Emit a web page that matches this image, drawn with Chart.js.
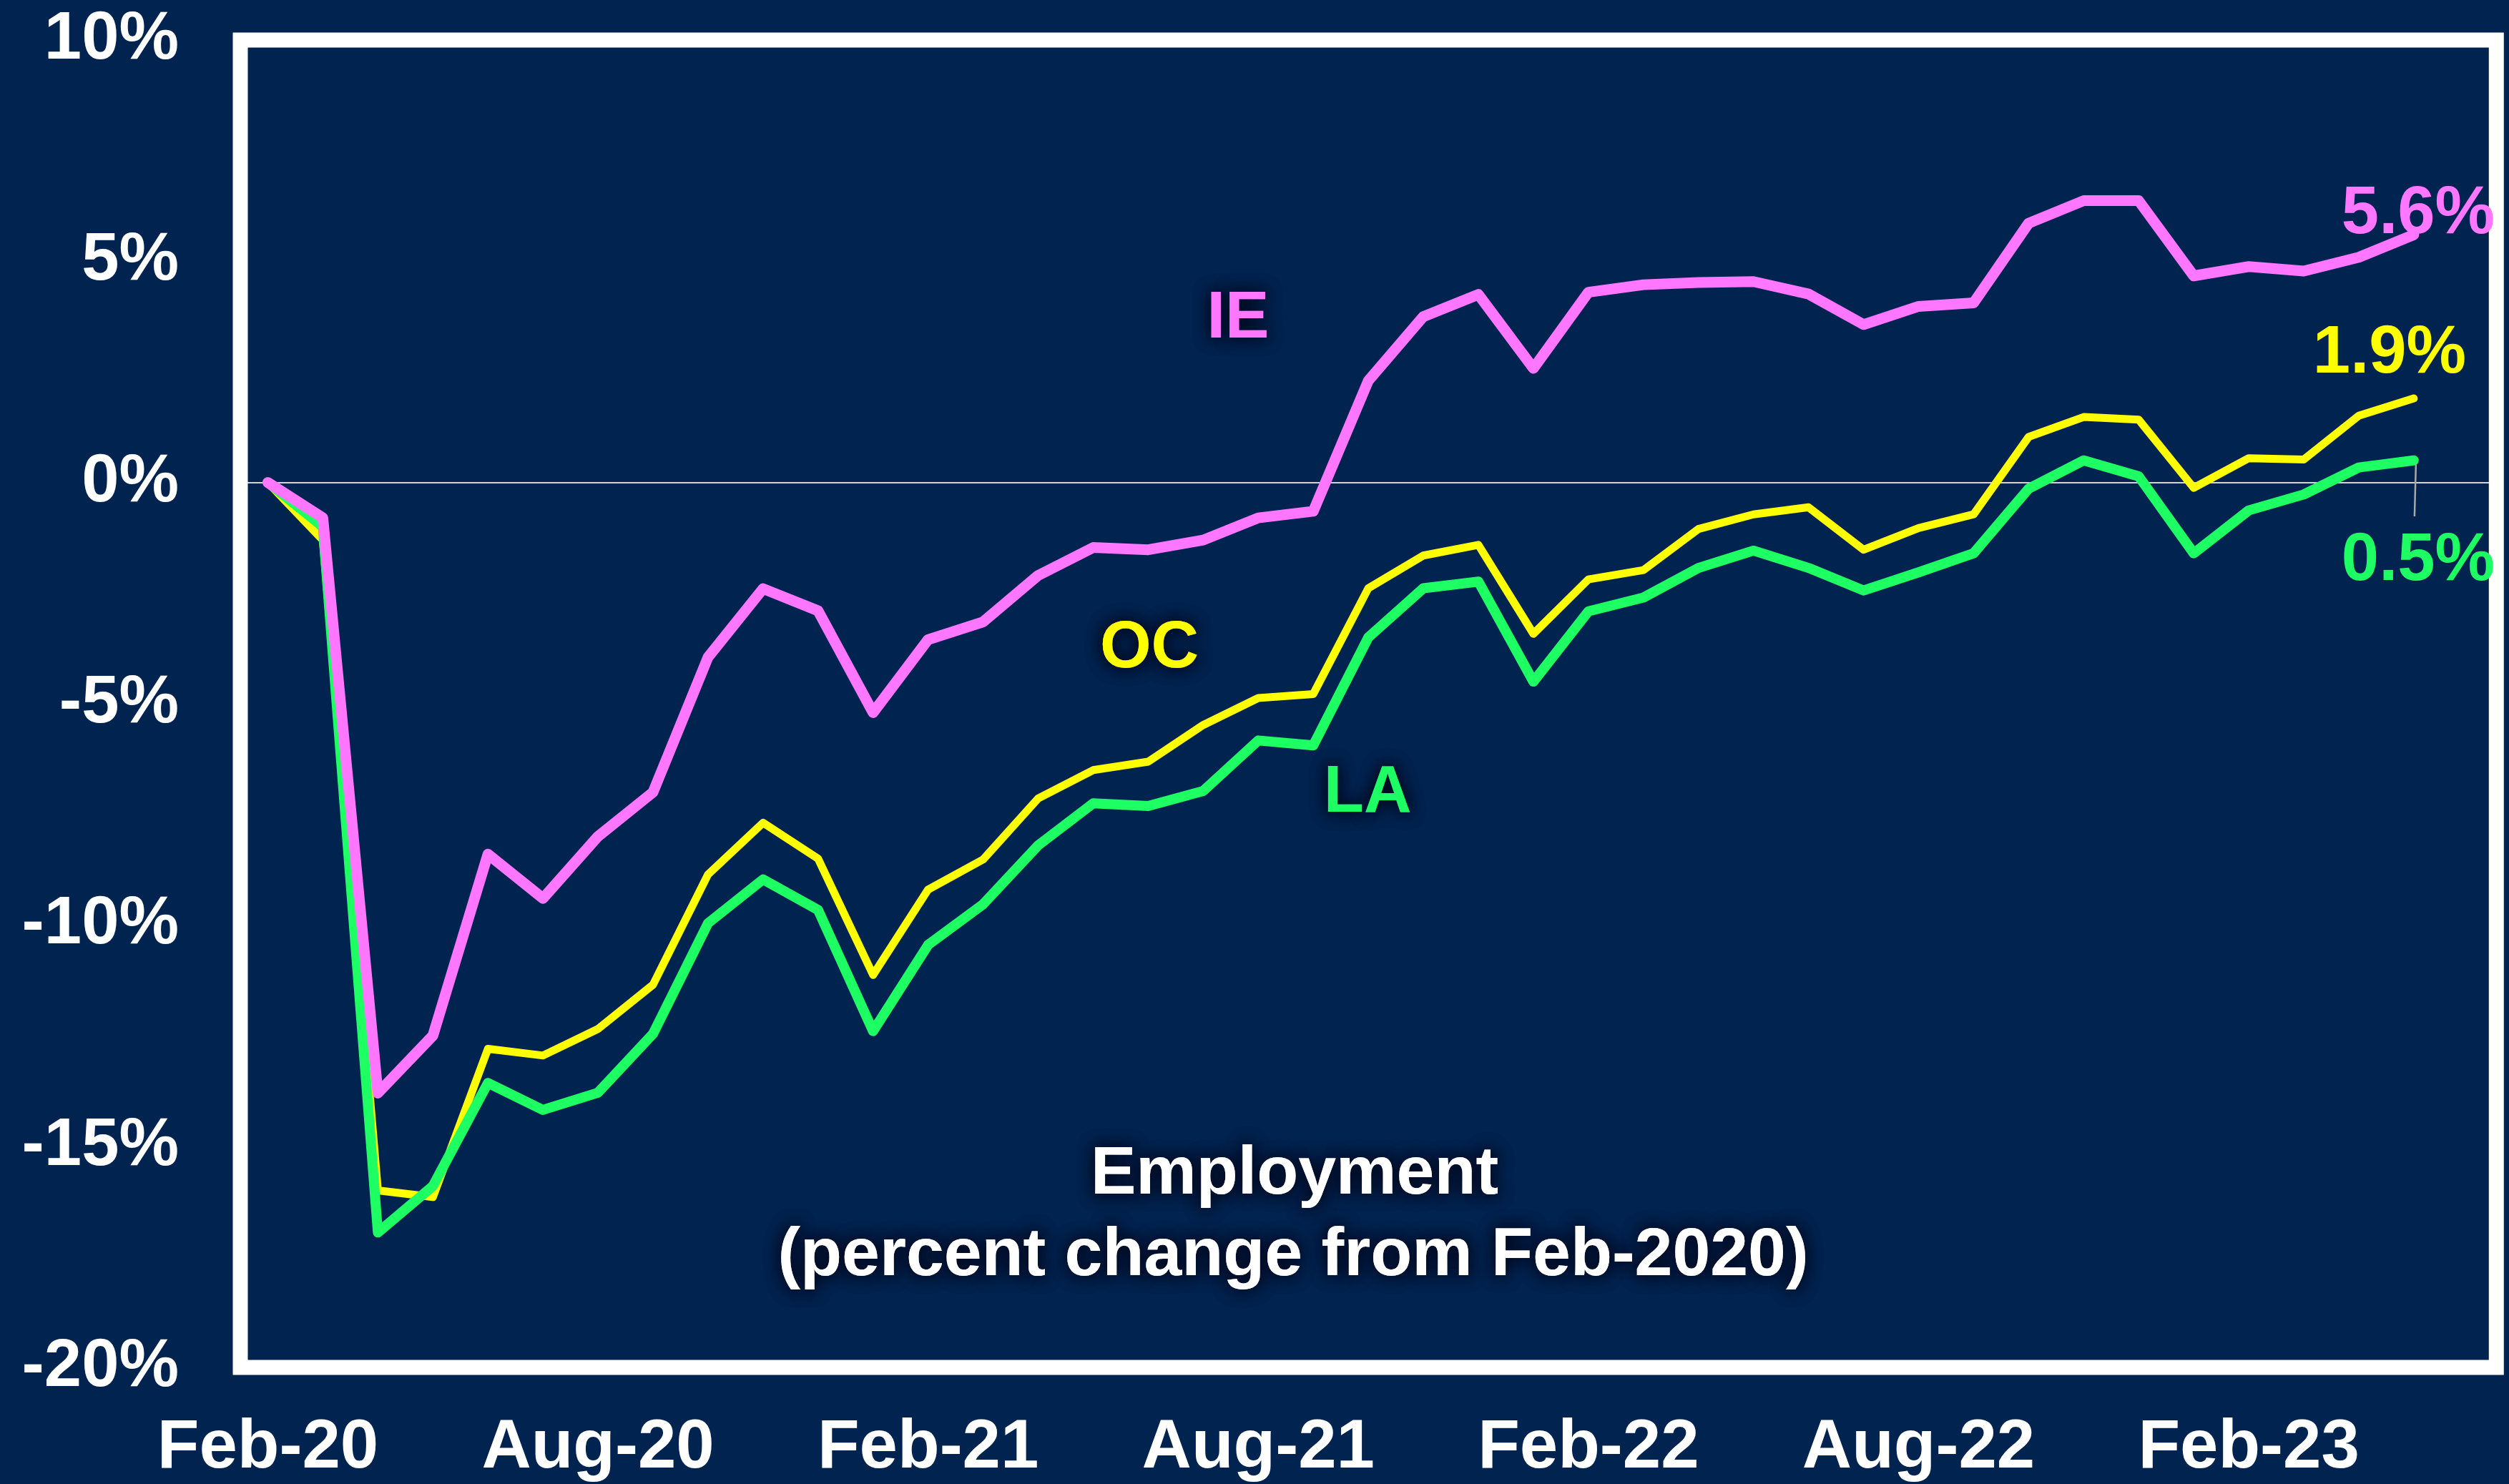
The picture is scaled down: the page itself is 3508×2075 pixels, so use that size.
<!DOCTYPE html>
<html>
<head>
<meta charset="utf-8">
<script src="https://cdn.jsdelivr.net/npm/chart.js@4.4.0/dist/chart.umd.min.js"></script>
<style>
    html, body { margin: 0; padding: 0; background: #00234f; }
    canvas { display: block; }
</style>
</head>
<body>
<canvas id="employmentChart" width="3508" height="2075"></canvas>
<script>
// months on the category axis (last one is an empty slot, as in the original)
const months = [
    'Feb-20', 'Mar-20', 'Apr-20', 'May-20', 'Jun-20', 'Jul-20', 'Aug-20', 'Sep-20', 'Oct-20', 'Nov-20', 'Dec-20', 'Jan-21',
    'Feb-21', 'Mar-21', 'Apr-21', 'May-21', 'Jun-21', 'Jul-21', 'Aug-21', 'Sep-21', 'Oct-21', 'Nov-21', 'Dec-21', 'Jan-22',
    'Feb-22', 'Mar-22', 'Apr-22', 'May-22', 'Jun-22', 'Jul-22', 'Aug-22', 'Sep-22', 'Oct-22', 'Nov-22', 'Dec-22', 'Jan-23',
    'Feb-23', 'Mar-23', 'Apr-23', 'May-23', 'Jun-23'
];

// percent change from Feb-2020
const ieValues = [0, -0.8, -13.8, -12.5, -8.4, -9.4, -8.0, -7.0, -3.95, -2.4, -2.9, -5.2,
    -3.55, -3.15, -2.1, -1.47, -1.52, -1.3, -0.8, -0.65, 2.3, 3.75, 4.25, 2.58,
    4.3, 4.47, 4.52, 4.54, 4.26, 3.57, 3.98, 4.06, 5.86, 6.37, 6.37, 4.67,
    4.88, 4.78, 5.09, 5.6];
const ocValues = [0, -1.3, -16.0, -16.15, -12.8, -12.95, -12.35, -11.35, -8.86, -7.69, -8.5, -11.13,
    -9.2, -8.52, -7.14, -6.5, -6.31, -5.48, -4.87, -4.78, -2.39, -1.65, -1.41, -3.42,
    -2.19, -1.98, -1.05, -0.72, -0.56, -1.52, -1.03, -0.72, 1.03, 1.48, 1.42, -0.12,
    0.55, 0.52, 1.51, 1.9];
const laValues = [0, -1.0, -16.95, -15.9, -13.57, -14.18, -13.79, -12.46, -9.96, -8.97, -9.66, -12.4,
    -10.45, -9.53, -8.2, -7.25, -7.31, -6.97, -5.83, -5.94, -3.5, -2.39, -2.24, -4.5,
    -2.91, -2.6, -1.93, -1.54, -1.93, -2.44, -2.03, -1.6, -0.14, 0.5, 0.14, -1.6,
    -0.63, -0.27, 0.34, 0.5];

const yTicks = [-20, -15, -10, -5, 0, 5, 10];

const BG = '#00234f';
const PINK = '#ff77ff';
const YELLOW = '#ffff00';
const GREEN = '#1eff64';
const FONT = '"Liberation Sans", Arial, sans-serif';

const last = (arr) => arr[arr.length - 1];

const backgroundPlugin = {
    id: 'bg',
    beforeDraw(chart) {
        const c = chart.ctx;
        c.save();
        c.fillStyle = BG;
        c.fillRect(0, 0, chart.width, chart.height);
        c.restore();
    }
};

const framePlugin = {
    id: 'frame',
    beforeDatasetsDraw(chart) {
        const { left, top, width, height } = chart.chartArea;
        const c = chart.ctx;
        c.save();
        c.strokeStyle = '#ffffff';
        c.lineWidth = 21;
        c.strokeRect(left, top, width, height);
        c.restore();
    }
};

// y tick labels sit far from the frame; tick padding would push the plot down,
// so they are drawn here from the scale's own ticks
const yLabelsPlugin = {
    id: 'yLabels',
    afterDraw(chart) {
        const ys = chart.scales.y;
        const c = chart.ctx;
        c.save();
        c.font = 'bold 94px ' + FONT;
        c.fillStyle = '#ffffff';
        c.textAlign = 'right';
        c.textBaseline = 'middle';
        ys.ticks.forEach(t => {
            c.fillText(t.value + '%', 250, ys.getPixelForValue(t.value));
        });
        c.restore();
    }
};

function glowText(c, text, x, y, color) {
    c.save();
    c.shadowColor = 'rgba(0, 8, 30, 0.95)';
    c.shadowBlur = 22;
    c.fillStyle = color;
    c.fillText(text, x, y);
    c.fillText(text, x, y);
    c.restore();
}

const labelsPlugin = {
    id: 'labels',
    afterDatasetsDraw(chart) {
        const c = chart.ctx;
        const xs = chart.scales.x;
        const ys = chart.scales.y;
        c.save();
        c.textAlign = 'center';
        c.textBaseline = 'middle';

        // series names
        c.font = 'bold 92px ' + FONT;
        glowText(c, 'IE', 1731, 447, PINK);
        glowText(c, 'OC', 1607, 908, YELLOW);
        glowText(c, 'LA', 1912, 1110, GREEN);

        // title
        c.font = 'bold 95px ' + FONT;
        glowText(c, 'Employment', 1810, 1643, '#ffffff');
        glowText(c, '(percent change from Feb-2020)', 1808, 1757, '#ffffff');

        // end values
        c.font = 'bold 94px ' + FONT;
        c.fillStyle = PINK;
        c.fillText(last(ieValues).toFixed(1) + '%', 3381, 300);
        c.fillStyle = YELLOW;
        c.fillText(last(ocValues).toFixed(1) + '%', 3341, 495);
        c.fillStyle = GREEN;
        c.fillText(last(laValues).toFixed(1) + '%', 3381, 785);

        // leader line from LA end point down to its label
        const px = xs.getPixelForValue(laValues.length - 1);
        const py = ys.getPixelForValue(last(laValues));
        c.strokeStyle = '#a8a8a8';
        c.lineWidth = 2.5;
        c.beginPath();
        c.moveTo(px + 3, py + 5);
        c.lineTo(px + 1, 722);
        c.stroke();
        c.restore();
    }
};

const ctx = document.getElementById('employmentChart');
new Chart(ctx, {
    type: 'line',
    data: {
        labels: months,
        datasets: [
            {
                label: 'IE',
                data: ieValues,
                borderColor: PINK,
                borderWidth: 15,
                order: 0
            },
            {
                label: 'LA',
                data: laValues,
                borderColor: GREEN,
                borderWidth: 14,
                order: 1
            },
            {
                label: 'OC',
                data: ocValues,
                borderColor: YELLOW,
                borderWidth: 11,
                order: 2
            }
        ]
    },
    options: {
        responsive: false,
        animation: false,
        devicePixelRatio: 1,
        layout: { padding: { top: 56, right: 14, left: 0, bottom: 0 } },
        elements: {
            point: { radius: 0 },
            line: { tension: 0, borderJoinStyle: 'round', borderCapStyle: 'round', fill: false }
        },
        plugins: {
            legend: { display: false },
            tooltip: { enabled: false }
        },
        scales: {
            x: {
                type: 'category',
                offset: true,
                grid: { display: false, drawTicks: false },
                border: { display: false },
                ticks: {
                    autoSkip: false,
                    maxRotation: 0,
                    minRotation: 0,
                    padding: 56,
                    color: '#ffffff',
                    font: { family: FONT, size: 96, weight: 'bold' },
                    callback: (val, i) => (i % 6 === 0 && i < ieValues.length) ? months[i] : ''
                },
                afterFit: (scale) => { scale.height = 163; }
            },
            y: {
                min: -20,
                max: 10,
                afterBuildTicks: (scale) => { scale.ticks = yTicks.map(v => ({ value: v })); },
                grid: {
                    drawTicks: false,
                    lineWidth: 2,
                    color: (c) => (c.tick && c.tick.value === 0) ? '#d4d4d4' : 'rgba(0,0,0,0)'
                },
                border: { display: false },
                ticks: { display: false },
                afterFit: (scale) => { scale.width = 336; }
            }
        }
    },
    plugins: [backgroundPlugin, framePlugin, yLabelsPlugin, labelsPlugin]
});
</script>
</body>
</html>
